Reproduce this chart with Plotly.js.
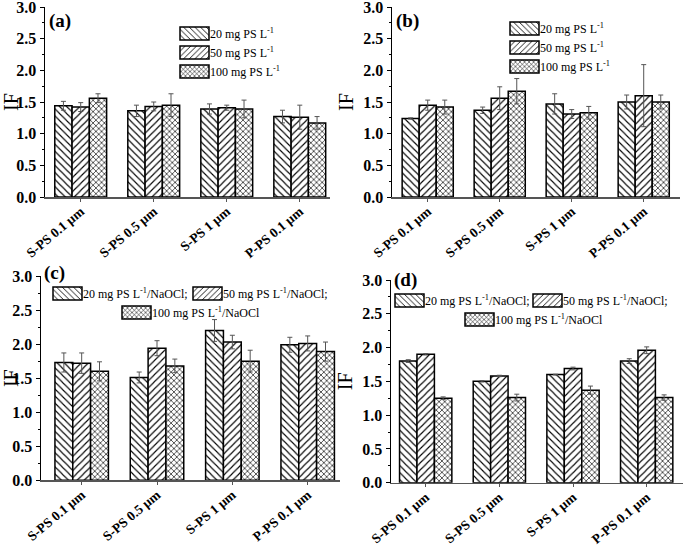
<!DOCTYPE html>
<html>
<head>
<meta charset="utf-8">
<script src="https://cdn.plot.ly/plotly-3.0.1.min.js"></script>
<style>html,body{margin:0;padding:0;background:#fff;}#chart{width:685px;height:546px;}</style>
</head>
<body>
<div id="chart"></div>
<script>
// ---- data ----
var categories = ['S-PS 0.1 μm', 'S-PS 0.5 μm', 'S-PS 1 μm', 'P-PS 0.1 μm'];

var namesAB = ['20 mg PS L<sup>-1</sup>', '50 mg PS L<sup>-1</sup>', '100 mg PS L<sup>-1</sup>'];
var namesCD = ['20 mg PS L<sup>-1</sup>/NaOCl;', '50 mg PS L<sup>-1</sup>/NaOCl;', '100 mg PS L<sup>-1</sup>/NaOCl'];

var a20 = [1.44, 1.36, 1.39, 1.27];   var a20err = [0.07, 0.09, 0.08, 0.10];
var a50 = [1.42, 1.43, 1.41, 1.26];   var a50err = [0.07, 0.07, 0.04, 0.19];
var a100 = [1.56, 1.45, 1.39, 1.17];  var a100err = [0.07, 0.18, 0.14, 0.10];

var b20 = [1.24, 1.37, 1.47, 1.50];   var b20err = [0.01, 0.05, 0.16, 0.11];
var b50 = [1.45, 1.56, 1.31, 1.60];   var b50err = [0.08, 0.18, 0.07, 0.49];
var b100 = [1.42, 1.67, 1.33, 1.50];  var b100err = [0.11, 0.20, 0.10, 0.11];

var c20 = [1.73, 1.51, 2.20, 1.99];   var c20err = [0.14, 0.08, 0.16, 0.11];
var c50 = [1.72, 1.94, 2.03, 2.01];   var c50err = [0.15, 0.11, 0.10, 0.11];
var c100 = [1.60, 1.68, 1.75, 1.89];  var c100err = [0.14, 0.10, 0.16, 0.14];

var d20 = [1.80, 1.50, 1.60, 1.80];   var d20err = [0.02, 0.01, 0.005, 0.035];
var d50 = [1.90, 1.58, 1.69, 1.96];   var d50err = [0.01, 0.01, 0.02, 0.05];
var d100 = [1.25, 1.26, 1.37, 1.26];  var d100err = [0.02, 0.05, 0.06, 0.04];

// ---- styling ----
var FONT = 'Liberation Serif';
var shapes = ['\\', '/', 'x'];
var psizes = [5, 5, 4];
var psol = [0.22, 0.22, 0.3];

function bar(y, err, idx, name, xa, ya, legend) {
  return {
    type: 'bar', x: categories, y: y, name: name,
    xaxis: xa, yaxis: ya, legend: legend,
    marker: {
      color: 'white',
      line: {color: 'black', width: 1.5},
      pattern: {shape: shapes[idx], size: psizes[idx], solidity: psol[idx], fgcolor: 'black', bgcolor: 'white'}
    },
    error_y: {type: 'data', array: err, visible: true, color: '#555', thickness: 1, width: 2.5}
  };
}

var data = [
  bar(a20, a20err, 0, namesAB[0], 'x', 'y', 'legend'),
  bar(a50, a50err, 1, namesAB[1], 'x', 'y', 'legend'),
  bar(a100, a100err, 2, namesAB[2], 'x', 'y', 'legend'),
  bar(b20, b20err, 0, namesAB[0], 'x2', 'y2', 'legend2'),
  bar(b50, b50err, 1, namesAB[1], 'x2', 'y2', 'legend2'),
  bar(b100, b100err, 2, namesAB[2], 'x2', 'y2', 'legend2'),
  bar(c20, c20err, 0, namesCD[0], 'x3', 'y3', 'legend3'),
  bar(c50, c50err, 1, namesCD[1], 'x3', 'y3', 'legend4'),
  bar(c100, c100err, 2, namesCD[2], 'x3', 'y3', 'legend5'),
  bar(d20, d20err, 0, namesCD[0], 'x4', 'y4', 'legend6'),
  bar(d50, d50err, 1, namesCD[1], 'x4', 'y4', 'legend7'),
  bar(d100, d100err, 2, namesCD[2], 'x4', 'y4', 'legend8')
];

var W = 685, H = 546;
function px(x) { return x / W; }
function py(y) { return 1 - y / H; }

function xax(l, r, range, anchor) {
  return {
    domain: [px(l), px(r)], anchor: anchor, type: 'category', range: range,
    showline: true, linecolor: '#555', linewidth: 1.5,
    ticks: 'outside', ticklen: 3, tickcolor: '#555', tickwidth: 1,
    tickangle: -40, showgrid: false, zeroline: false, ticklabeloverflow: 'allow',
    ticklabelstandoff: -3,
    tickfont: {family: FONT, size: 13.5, color: 'black', weight: 'bold'}
  };
}
function yax(t, b, anchor) {
  return {
    domain: [py(b), py(t)], anchor: anchor, range: [0, 3], dtick: 0.5, tick0: 0,
    tickformat: '.1f', showline: true, linecolor: 'black', linewidth: 1.5,
    ticks: 'outside', ticklen: 4, tickwidth: 1, tickcolor: 'black',
    minor: {dtick: 0.25, ticks: 'outside', ticklen: 2, tickcolor: 'black'},
    showgrid: false, zeroline: false, ticklabeloverflow: 'allow',
    tickfont: {family: FONT, size: 16, color: 'black', weight: 'bold'},
    title: {text: 'IF', font: {family: FONT, size: 20, color: 'black'}, standoff: 4}
  };
}

function leg(x, y) {
  return {
    x: px(x), y: py(y), xanchor: 'left', yanchor: 'top',
    orientation: 'v', bgcolor: 'rgba(0,0,0,0)', borderwidth: 0,
    font: {family: FONT, size: 12, color: 'black'},
    traceorder: 'normal', tracegroupgap: 0, itemclick: false, itemdoubleclick: false
  };
}

function lbl(x, y, t) {
  return {xref: 'paper', yref: 'paper', x: px(x), y: py(y), xanchor: 'left', yanchor: 'middle',
    text: t, showarrow: false, font: {family: FONT, size: 19, color: 'black', weight: 'bold'}};
}

var layout = {
  width: W, height: H, margin: {l: 0, r: 0, t: 0, b: 0},
  paper_bgcolor: 'white', plot_bgcolor: 'white',
  font: {family: FONT, color: 'black'},
  barmode: 'group', bargap: 0.29, bargroupgap: 0,
  showlegend: true,
  xaxis: xax(45, 330, [-0.489, 3.414], 'y'),
  yaxis: yax(7, 197, 'x'),
  xaxis2: xax(392, 680, [-0.496, 3.504], 'y2'),
  yaxis2: yax(7, 197, 'x2'),
  xaxis3: xax(41, 340, [-0.540, 3.429], 'y3'),
  yaxis3: yax(276, 480.3, 'x3'),
  xaxis4: xax(391, 683, [-0.471, 3.493], 'y4'),
  yaxis4: yax(280, 482.7, 'x4'),
  legend: leg(170, 19),
  legend2: leg(500, 14),
  legend3: leg(43, 279),
  legend4: leg(183, 279),
  legend5: leg(112, 298),
  legend6: leg(385, 286),
  legend7: leg(523, 286),
  legend8: leg(455, 305),
  annotations: [
    lbl(47, 21, '(a)'),
    lbl(394, 21, '(b)'),
    lbl(42, 273, '(c)'),
    lbl(392, 280, '(d)')
  ]
};

function widen() {
  document.querySelectorAll('g.legendpoints path').forEach(function (p) {
    p.setAttribute('d', 'M-10,-6.5H19V6.5H-10Z');
  });
}
Plotly.newPlot('chart', data, layout, {staticPlot: true, displayModeBar: false}).then(function () {
  widen();
  setTimeout(widen, 50);
});
</script>
</body>
</html>
